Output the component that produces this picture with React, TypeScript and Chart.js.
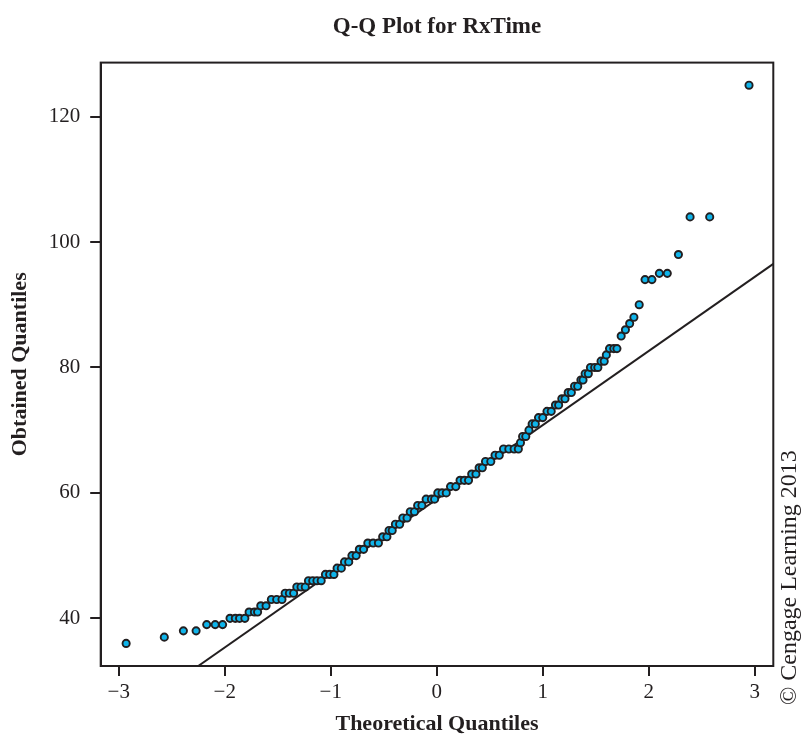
import React, { useEffect, useRef } from "react";
import { Chart, registerables } from "chart.js";

Chart.register(...registerables);

const chartTitle = "Q-Q Plot for RxTime";
const xAxisTitle = "Theoretical Quantiles";
const yAxisTitle = "Obtained Quantiles";
const copyrightText = "© Cengage Learning 2013";

const xTickValues = [-3, -2, -1, 0, 1, 2, 3];
const yTickValues = [40, 60, 80, 100, 120];

// Theoretical quantiles (x) of the visible dots
const theoreticalQ = [
  -2.93,
  -2.57,
  -2.39, -2.27,
  -2.17, -2.09, -2.02,
  -1.95, -1.9, -1.86, -1.81,
  -1.77, -1.72, -1.69,
  -1.66, -1.61,
  -1.56, -1.51, -1.46,
  -1.43, -1.39, -1.35,
  -1.32, -1.28, -1.24,
  -1.21, -1.17, -1.13, -1.09,
  -1.05, -1.01, -0.97,
  -0.94, -0.9,
  -0.87, -0.83,
  -0.8, -0.76,
  -0.73, -0.69,
  -0.65, -0.6, -0.55,
  -0.51, -0.47,
  -0.45, -0.42,
  -0.39, -0.35,
  -0.32, -0.28,
  -0.25, -0.21,
  -0.18, -0.14,
  -0.1, -0.05, -0.02,
  0.01, 0.05, 0.09,
  0.13, 0.18,
  0.22, 0.26, 0.3,
  0.33, 0.37,
  0.4, 0.43,
  0.46, 0.51,
  0.55, 0.59,
  0.63, 0.68, 0.73, 0.77,
  0.79,
  0.81, 0.84,
  0.87,
  0.9, 0.93,
  0.96, 1.0,
  1.04, 1.08,
  1.12, 1.15,
  1.18, 1.21,
  1.24, 1.27,
  1.3, 1.33,
  1.36, 1.38,
  1.4, 1.43,
  1.45, 1.49, 1.52,
  1.55, 1.58,
  1.6,
  1.63, 1.67, 1.7,
  1.74,
  1.78,
  1.82,
  1.86,
  1.91,
  1.965, 2.03,
  2.1, 2.175,
  2.28,
  2.39, 2.575,
  2.946,
];

// Obtained quantiles (y) of the same dots
const obtainedQ = [
  36,
  37,
  38, 38,
  39, 39, 39,
  40, 40, 40, 40,
  41, 41, 41,
  42, 42,
  43, 43, 43,
  44, 44, 44,
  45, 45, 45,
  46, 46, 46, 46,
  47, 47, 47,
  48, 48,
  49, 49,
  50, 50,
  51, 51,
  52, 52, 52,
  53, 53,
  54, 54,
  55, 55,
  56, 56,
  57, 57,
  58, 58,
  59, 59, 59,
  60, 60, 60,
  61, 61,
  62, 62, 62,
  63, 63,
  64, 64,
  65, 65,
  66, 66,
  67, 67, 67, 67,
  68,
  69, 69,
  70,
  71, 71,
  72, 72,
  73, 73,
  74, 74,
  75, 75,
  76, 76,
  77, 77,
  78, 78,
  79, 79,
  80, 80, 80,
  81, 81,
  82,
  83, 83, 83,
  85,
  86,
  87,
  88,
  90,
  94, 94,
  95, 95,
  98,
  104, 104,
  125,
];

// Reference line end points
const refLineX = [-2.25, 3.175];
const refLineY = [32.4, 96.5];

const X_MIN = -3.17;
const X_MAX = 3.175;
const Y_MIN = 32.4;
const Y_MAX = 128.6;

const INK = "#231f20";
const DOT = "#0fb4ea";
const SERIF = '"Liberation Serif", "Times New Roman", serif';

const framePlugin = {
  id: "frameAndNote",
  beforeDatasetsDraw(chart: any) {
    const { ctx, chartArea } = chart;
    ctx.save();
    ctx.strokeStyle = INK;
    ctx.lineWidth = 2;
    ctx.strokeRect(
      chartArea.left,
      chartArea.top,
      chartArea.right - chartArea.left,
      chartArea.bottom - chartArea.top
    );
    ctx.restore();
  },
  afterDraw(chart: any) {
    const { ctx, chartArea } = chart;
    ctx.save();
    ctx.fillStyle = INK;
    ctx.font = `24px ${SERIF}`;
    ctx.textAlign = "left";
    ctx.textBaseline = "middle";
    ctx.translate(chart.width - 12, chartArea.bottom + 39);
    ctx.rotate(-Math.PI / 2);
    ctx.fillText(copyrightText, 0, 0);
    ctx.restore();
  },
};

const fmt = (v: number) => (v < 0 ? "\u2212" + Math.abs(v) : String(v));

export default function App() {
  const ref = useRef<HTMLCanvasElement | null>(null);

  useEffect(() => {
    if (!ref.current) return;
    const points = theoreticalQ.map((x, i) => ({ x, y: obtainedQ[i] }));
    const line = refLineX.map((x, i) => ({ x, y: refLineY[i] }));
    const chart = new Chart(ref.current, {
      type: "scatter",
      data: {
        datasets: [
          {
            type: "scatter",
            data: points,
            pointRadius: 3.6,
            pointBorderWidth: 1.9,
            pointBackgroundColor: DOT,
            pointBorderColor: INK,
            order: 1,
          },
          {
            type: "line",
            data: line,
            borderColor: INK,
            borderWidth: 2,
            pointRadius: 0,
            fill: false,
            order: 2,
          } as any,
        ],
      },
      options: {
        responsive: false,
        animation: false,
        layout: { padding: { left: 7, right: 28.7, top: 0, bottom: 0 } },
        plugins: {
          legend: { display: false },
          tooltip: { enabled: false },
          title: {
            display: true,
            text: chartTitle,
            fullSize: false,
            color: INK,
            font: { family: SERIF, size: 23, weight: "bold", lineHeight: 1.2 },
            padding: { top: 13, bottom: 22 },
          },
        },
        scales: {
          x: {
            type: "linear",
            min: X_MIN,
            max: X_MAX,
            afterBuildTicks: (s: any) => {
              s.ticks = xTickValues.map((v) => ({ value: v }));
            },
            afterFit: (s: any) => {
              s.height = 72;
            },
            ticks: {
              color: INK,
              font: { family: SERIF, size: 21 },
              padding: 4,
              callback: (v: any) => fmt(Number(v)),
              maxRotation: 0,
            },
            grid: {
              display: true,
              drawOnChartArea: false,
              drawTicks: true,
              tickLength: 10,
              color: INK,
              lineWidth: 2,
            },
            border: { display: true, color: INK, width: 2 },
            title: {
              display: true,
              text: xAxisTitle,
              color: INK,
              font: { family: SERIF, size: 22, weight: "bold", lineHeight: 1.2 },
              padding: 0,
            },
          },
          y: {
            type: "linear",
            min: Y_MIN,
            max: Y_MAX,
            afterBuildTicks: (s: any) => {
              s.ticks = yTickValues.map((v) => ({ value: v }));
            },
            afterFit: (s: any) => {
              s.width = 93.7;
            },
            ticks: {
              color: INK,
              font: { family: SERIF, size: 21 },
              padding: 10,
              callback: (v: any) => fmt(Number(v)),
            },
            grid: {
              display: true,
              drawOnChartArea: false,
              drawTicks: true,
              tickLength: 10.5,
              color: INK,
              lineWidth: 2,
            },
            border: { display: true, color: INK, width: 2 },
            title: {
              display: true,
              text: yAxisTitle,
              color: INK,
              font: { family: SERIF, size: 22, weight: "bold", lineHeight: 1.2 },
              padding: 0,
            },
          },
        },
      },
      plugins: [framePlugin],
    });
    return () => chart.destroy();
  }, []);

  return (
    <div style={{ position: "absolute", left: 0, top: 0, width: 802, height: 738, background: "#fff" }}>
      <canvas ref={ref} width={802} height={738} style={{ display: "block", width: 802, height: 738 }} />
    </div>
  );
}
